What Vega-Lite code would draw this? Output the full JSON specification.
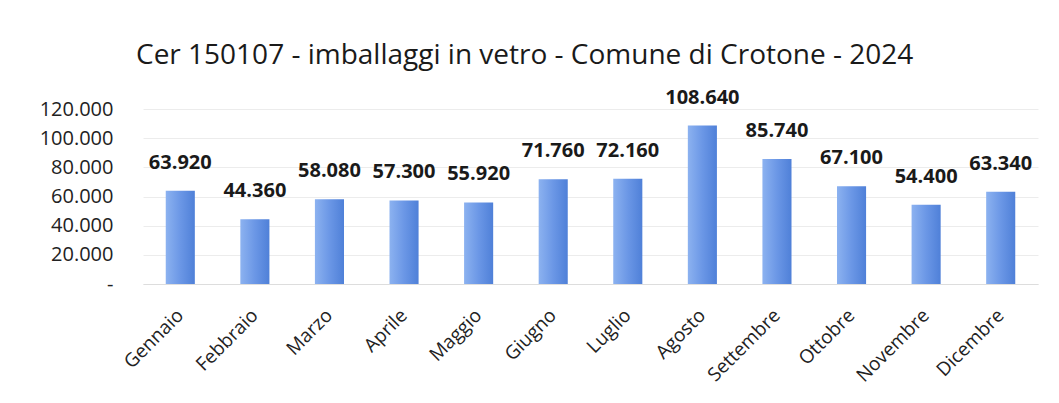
{
  "$schema": "https://vega.github.io/schema/vega-lite/v6.json",
  "width": 895,
  "height": 175,
  "autosize": {"type": "none"},
  "padding": {"left": 143, "top": 109, "right": 21, "bottom": 119},
  "background": "white",
  "title": {
    "text": "Cer 150107 - imballaggi in vetro - Comune di Crotone  - 2024",
    "anchor": "start",
    "frame": "group",
    "offset": 18,
    "dx": -7,
    "font": "Open Sans",
    "fontSize": 28,
    "fontWeight": "normal",
    "color": "#1a1a1a"
  },
  "data": {
    "values": [
      {"mese": "Gennaio", "kg": 63920},
      {"mese": "Febbraio", "kg": 44360},
      {"mese": "Marzo", "kg": 58080},
      {"mese": "Aprile", "kg": 57300},
      {"mese": "Maggio", "kg": 55920},
      {"mese": "Giugno", "kg": 71760},
      {"mese": "Luglio", "kg": 72160},
      {"mese": "Agosto", "kg": 108640},
      {"mese": "Settembre", "kg": 85740},
      {"mese": "Ottobre", "kg": 67100},
      {"mese": "Novembre", "kg": 54400},
      {"mese": "Dicembre", "kg": 63340}
    ]
  },
  "encoding": {
    "x": {
      "field": "mese",
      "type": "nominal",
      "sort": null,
      "scale": {"paddingInner": 0.61, "paddingOuter": 0.305},
      "axis": {
        "title": null,
        "labelAngle": -45,
        "labelAlign": "right",
        "labelBaseline": "middle",
        "labelFont": "Open Sans",
        "labelFontSize": 19,
        "labelColor": "#222222",
        "labelPadding": 28,
        "ticks": false,
        "domainColor": "#dddddd",
        "grid": false
      }
    },
    "y": {
      "field": "kg",
      "type": "quantitative",
      "scale": {"domain": [0, 120000]},
      "axis": {
        "title": null,
        "values": [0, 20000, 40000, 60000, 80000, 100000, 120000],
        "labelExpr": "datum.value == 0 ? '-   ' : format(datum.value, ',d')",
        "labelFont": "Open Sans",
        "labelFontSize": 20,
        "labelColor": "#222222",
        "labelPadding": 30,
        "ticks": false,
        "domain": false,
        "gridColor": "#ececec"
      }
    }
  },
  "layer": [
    {
      "mark": {
        "type": "bar",
        "color": {
          "gradient": "linear",
          "x1": 0, "y1": 0, "x2": 1, "y2": 0,
          "stops": [
            {"offset": 0, "color": "#8cb2f0"},
            {"offset": 0.5, "color": "#6b97e6"},
            {"offset": 1, "color": "#4f80d8"}
          ]
        }
      }
    },
    {
      "mark": {
        "type": "text",
        "baseline": "middle",
        "dy": -28,
        "font": "Open Sans",
        "fontSize": 20,
        "fontWeight": "bold",
        "color": "#1a1a1a"
      },
      "encoding": {
        "text": {"field": "kg", "type": "quantitative", "format": ",d"}
      }
    }
  ],
  "config": {
    "view": {"stroke": null},
    "locale": {
      "number": {
        "decimal": ",",
        "thousands": ".",
        "grouping": [3],
        "currency": ["€", ""]
      }
    }
  }
}
